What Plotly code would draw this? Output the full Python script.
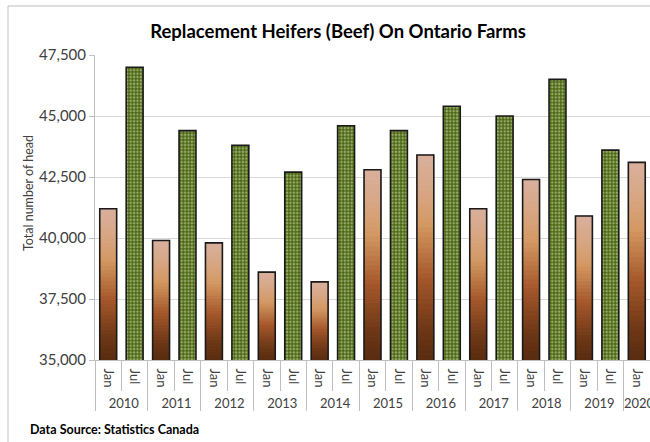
import plotly.graph_objects as go
from plotly.colors import sample_colorscale

years = ["2010", "2011", "2012", "2013", "2014", "2015", "2016", "2017", "2018", "2019", "2020"]
jan_values = [41200, 39900, 39800, 38600, 38200, 42800, 43400, 41200, 42400, 40900, 43100]
jul_values = [47000, 44400, 43800, 42700, 44600, 44400, 45400, 45000, 46500, 43600]
y_ticks = [35000, 37500, 40000, 42500, 45000, 47500]

FONT = "Lato"
BASE = y_ticks[0]

# Build the two-level category axis (year, month) in chronological order
outer, inner, jan_y, jul_y = [], [], [], []
for i, yr in enumerate(years):
    outer.append(yr); inner.append("Jan")
    jan_y.append(jan_values[i]); jul_y.append(None)
    if i < len(jul_values):
        outer.append(yr); inner.append("Jul")
        jan_y.append(None); jul_y.append(jul_values[i])
x_cat = [outer, inner]

fig = go.Figure()

# Jan bars: vertical gradient built from stacked slices of each bar
N = 40
scale = [[0.0, "#582B0F"], [0.15, "#6C3716"], [0.4, "#A5572A"],
         [0.66, "#D39862"], [0.82, "#D7A683"], [1.0, "#D9B09D"]]
cols = sample_colorscale(scale, [(k + 0.5) / N for k in range(N)])
for k in range(N):
    h = [None if v is None else (v - BASE) / N for v in jan_y]
    b = [None if v is None else BASE + k * (v - BASE) / N for v in jan_y]
    fig.add_trace(go.Bar(x=x_cat, y=h, base=b, width=0.62,
                         marker=dict(color=cols[k], line=dict(color=cols[k], width=1)),
                         hoverinfo="skip", showlegend=False))
# Jan outline
fig.add_trace(go.Bar(x=x_cat, y=jan_y, width=0.64, name="Jan",
                     marker=dict(color="rgba(0,0,0,0)", line=dict(color="#1a1a1a", width=1.6)),
                     showlegend=False))
# Jul bars: green dotted pattern
fig.add_trace(go.Bar(x=x_cat, y=jul_y, width=0.64, name="Jul",
                     marker=dict(color="#4A6612",
                                 pattern=dict(shape=".", fgcolor="#E6EDC6", size=3.4, solidity=0.42),
                                 line=dict(color="#1a1a1a", width=1.6)),
                     showlegend=False))

L, R, T, B = 95, 0, 55, 82
W, H = 650, 442
pw, ph = W - L - R, H - T - B


def px_x(x):
    return (x - L) / pw


def px_y(y):
    return (T + ph - y) / ph


fig.update_layout(
    width=W, height=H,
    margin=dict(l=L, r=R, t=T, b=B, autoexpand=False),
    barmode="overlay",
    paper_bgcolor="white", plot_bgcolor="white",
    font=dict(family=FONT, color="#404040"),
    title=dict(text="<b>Replacement Heifers (Beef) On Ontario Farms</b>",
               x=(338) / W, xanchor="center", y=1 - 32 / H, yanchor="middle",
               font=dict(family=FONT, size=18.5, color="#000000")),
    xaxis=dict(type="multicategory", tickangle=90, ticks="outside", tickson="boundaries",
               ticklen=30, tickcolor="#BFBFBF", showdividers=True, dividercolor="#BFBFBF",
               dividerwidth=1, showline=True, linecolor="#BFBFBF", linewidth=1,
               ticklabelstandoff=5,
               tickfont=dict(family=FONT, size=13, color="#404040"), showgrid=False),
    yaxis=dict(range=[BASE, y_ticks[-1]], tickvals=y_ticks, tickformat=",",
               showgrid=True, gridcolor="#D9D9D9", gridwidth=1,
               showline=True, linecolor="#BFBFBF", ticks="outside", ticklen=5,
               tickcolor="#BFBFBF", zeroline=False,
               tickfont=dict(family=FONT, size=15, color="#404040")),
    annotations=[
        dict(text="<b>Data Source: Statistics Canada</b>", xref="paper", yref="paper",
             x=px_x(28), y=px_y(429), xanchor="left", yanchor="middle",
             showarrow=False, font=dict(family=FONT, size=12.5, color="#000000")),
        dict(text="Total number of head", xref="paper", yref="paper", textangle=-90,
             x=px_x(28), y=px_y(193), xanchor="center", yanchor="middle",
             showarrow=False, font=dict(family=FONT, size=12.5, color="#404040")),
    ],
    shapes=[dict(type="rect", xref="paper", yref="paper",
                 x0=px_x(8), x1=px_x(W + 5), y0=px_y(H + 5), y1=px_y(6),
                 line=dict(color="#BFBFBF", width=1), fillcolor="rgba(0,0,0,0)", layer="below")],
)

fig.write_html("out.html", config={"displayModeBar": False},
               post_script="document.body.style.margin='0';document.body.style.overflow='hidden';")
